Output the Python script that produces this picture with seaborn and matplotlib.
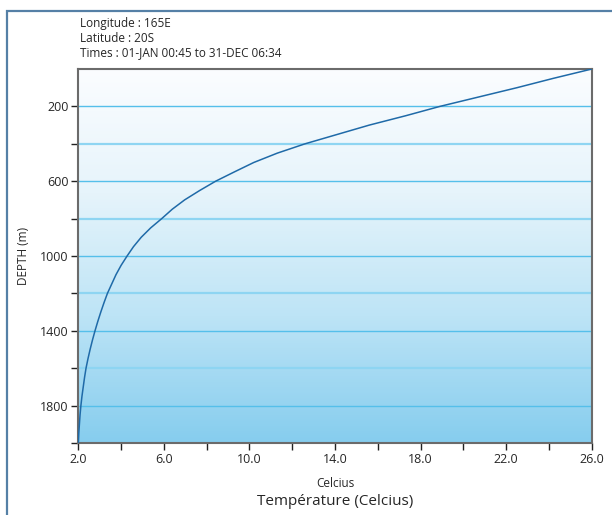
import numpy as np
import pandas as pd
import seaborn as sns
import matplotlib.pyplot as plt
from matplotlib.patches import Rectangle
from matplotlib.colors import LinearSegmentedColormap
from matplotlib.ticker import FixedLocator, FixedFormatter

# Data (depth in m, temperature in Celcius)
depth = [0, 50, 100, 150, 200, 250, 300, 350, 400, 450, 500, 550, 600, 650, 700,
         750, 800, 850, 900, 950, 1000, 1050, 1100, 1150, 1200, 1250, 1300,
         1350, 1400, 1450, 1500, 1550, 1600, 1650, 1700, 1750, 1800, 1850,
         1900, 1950, 2000]
temperature = [26.0, 24.2, 22.5, 20.7, 18.9, 17.3, 15.6, 14.1, 12.6, 11.3, 10.2,
               9.3, 8.42, 7.67, 6.97, 6.39, 5.9, 5.38, 4.94, 4.58, 4.28, 4.0,
               3.76, 3.56, 3.36, 3.2, 3.05, 2.91, 2.78, 2.66, 2.55, 2.45, 2.36,
               2.29, 2.23, 2.17, 2.12, 2.08, 2.05, 2.02, 2.0]

x_major = [2, 6, 10, 14, 18, 22, 26]
x_labels = ["2.0", "6.0", "10.0", "14.0", "18.0", "22.0", "26.0"]
x_minor = [4, 8, 12, 16, 20, 24]
y_major = [200, 600, 1000, 1400, 1800]
y_minor = [400, 800, 1200, 1600, 2000]

header = ["Longitude : 165E", "Latitude : 20S", "Times : 01-JAN 00:45 to 31-DEC 06:34"]

sns.set_style("white")
plt.rcParams['font.family'] = ['Open Sans', 'DejaVu Sans']

df = pd.DataFrame({"temp": temperature, "depth": depth})

fig = plt.figure(figsize=(6.12, 5.15), dpi=100)
ax = fig.add_axes([0.128, 0.140, 0.839, 0.726])

# outer frame (only left and top edges fall inside the picture)
fig.patches.append(Rectangle((7 / 612, -0.1), 1.2, 1 - 11 / 515 + 0.1,
                             transform=fig.transFigure, fill=False,
                             edgecolor="#5580a6", lw=1.6, zorder=0))

# gradient background
cmap = LinearSegmentedColormap.from_list(
    "bg", [(0, "#fbfdff"), (0.33, "#e6f4fb"), (0.66, "#bde4f6"), (1, "#86cdee")])
grad = np.linspace(0, 1, 256).reshape(-1, 1)
ax.imshow(grad, cmap=cmap, extent=[0, 1, 0, 1], transform=ax.transAxes,
          aspect="auto", zorder=0, origin="upper")

for d in y_major:
    ax.axhline(d, color="#55bfea", lw=1.0, zorder=1)
for d in y_minor[:-1]:
    ax.axhline(d, color="#8ed5f2", lw=1.6, zorder=1)

sns.lineplot(data=df, x="temp", y="depth", sort=False, estimator=None,
             color="#1f6aa8", lw=1.1, ax=ax, zorder=3)

ax.set_xlim(2, 26)
ax.set_ylim(2000, 0)

ax.xaxis.set_major_locator(FixedLocator(x_major))
ax.xaxis.set_major_formatter(FixedFormatter(x_labels))
ax.xaxis.set_minor_locator(FixedLocator(x_minor))
ax.yaxis.set_major_locator(FixedLocator(y_major))
ax.yaxis.set_minor_locator(FixedLocator(y_minor))

ax.tick_params(axis="both", which="both", direction="out", length=5, width=1,
               color="#222222", labelsize=9, pad=2)
ax.tick_params(axis="both", which="both", bottom=True, left=True)

for s in ax.spines.values():
    s.set_color("#6b6b6b")
    s.set_linewidth(1.5)

ax.set_xlabel("Celcius", fontsize=8.5, labelpad=8)
ax.set_ylabel("DEPTH (m)", fontsize=8.5, labelpad=7)
fig.text(0.547, 0.027, "Température (Celcius)", ha="center", va="center", fontsize=11)

for i, line in enumerate(header):
    fig.text(80 / 612, 1 - (24 + i * 14.5) / 515, line, ha="left", va="center", fontsize=8.5)

fig.savefig("out.png", dpi=100)
